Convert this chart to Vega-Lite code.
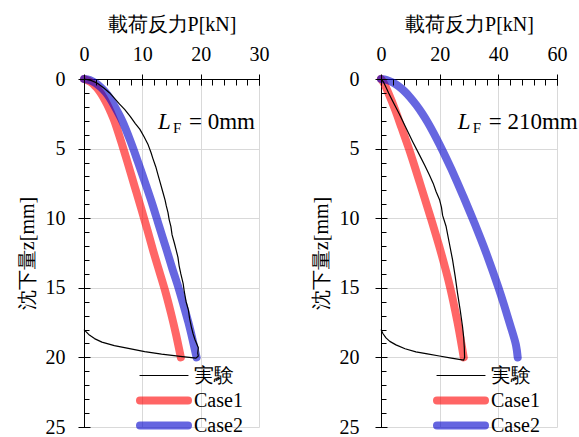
{
  "$schema": "https://vega.github.io/schema/vega-lite/v6.json",
  "padding": {"left": 17, "top": 14, "right": 2, "bottom": 0},
  "background": "white",
  "config": {
    "font": "Liberation Serif",
    "view": {"stroke": null},
    "axis": {
      "labelFont": "Liberation Serif",
      "titleFont": "Liberation Serif",
      "labelFontSize": 20,
      "titleFontSize": 20,
      "titleFontWeight": "normal",
      "labelColor": "black",
      "titleColor": "black",
      "domainColor": "black",
      "tickColor": "black",
      "gridColor": "#d9d9d9",
      "gridWidth": 1,
      "labelFlush": false,
      "labelOverlap": false
    },
    "legend": {
      "orient": "none",
      "legendX": 48,
      "legendY": 286.5,
      "symbolType": "M-0.5,0H11.5",
      "symbolSize": 64,
      "labelFont": "Liberation Serif",
      "labelFontSize": 20,
      "labelColor": "black",
      "labelOffset": 42,
      "rowPadding": 5,
      "padding": 0,
      "labelLimit": 200
    },
    "text": {"font": "Liberation Serif", "color": "black"}
  },
  "datasets": {
    "left": [
      {"series": "Case1", "P": 0, "z": 0, "order": 0},
      {"series": "Case1", "P": 0.7, "z": 0.12, "order": 1},
      {"series": "Case1", "P": 1.4, "z": 0.3, "order": 2},
      {"series": "Case1", "P": 2.0, "z": 0.55, "order": 3},
      {"series": "Case1", "P": 2.6, "z": 0.85, "order": 4},
      {"series": "Case1", "P": 3.3, "z": 1.3, "order": 5},
      {"series": "Case1", "P": 4.0, "z": 1.85, "order": 6},
      {"series": "Case1", "P": 4.6, "z": 2.4, "order": 7},
      {"series": "Case1", "P": 5.2, "z": 3.0, "order": 8},
      {"series": "Case1", "P": 6.3, "z": 4.4, "order": 9},
      {"series": "Case1", "P": 7.4, "z": 5.9, "order": 10},
      {"series": "Case1", "P": 8.6, "z": 7.6, "order": 11},
      {"series": "Case1", "P": 9.8, "z": 9.3, "order": 12},
      {"series": "Case1", "P": 10.9, "z": 10.9, "order": 13},
      {"series": "Case1", "P": 11.9, "z": 12.4, "order": 14},
      {"series": "Case1", "P": 12.9, "z": 13.8, "order": 15},
      {"series": "Case1", "P": 13.9, "z": 15.2, "order": 16},
      {"series": "Case1", "P": 14.9, "z": 16.8, "order": 17},
      {"series": "Case1", "P": 15.8, "z": 18.4, "order": 18},
      {"series": "Case1", "P": 16.6, "z": 20.0, "order": 19},
      {"series": "Case2", "P": 0, "z": 0, "order": 0},
      {"series": "Case2", "P": 1.0, "z": 0.08, "order": 1},
      {"series": "Case2", "P": 2.0, "z": 0.3, "order": 2},
      {"series": "Case2", "P": 2.9, "z": 0.6, "order": 3},
      {"series": "Case2", "P": 3.7, "z": 0.95, "order": 4},
      {"series": "Case2", "P": 4.4, "z": 1.35, "order": 5},
      {"series": "Case2", "P": 5.1, "z": 1.85, "order": 6},
      {"series": "Case2", "P": 6.6, "z": 3.05, "order": 7},
      {"series": "Case2", "P": 8.0, "z": 4.5, "order": 8},
      {"series": "Case2", "P": 9.2, "z": 5.9, "order": 9},
      {"series": "Case2", "P": 10.6, "z": 7.6, "order": 10},
      {"series": "Case2", "P": 11.8, "z": 9.1, "order": 11},
      {"series": "Case2", "P": 12.9, "z": 10.6, "order": 12},
      {"series": "Case2", "P": 14.1, "z": 12.2, "order": 13},
      {"series": "Case2", "P": 15.2, "z": 13.7, "order": 14},
      {"series": "Case2", "P": 16.2, "z": 15.0, "order": 15},
      {"series": "Case2", "P": 17.1, "z": 16.3, "order": 16},
      {"series": "Case2", "P": 17.9, "z": 17.5, "order": 17},
      {"series": "Case2", "P": 18.6, "z": 18.7, "order": 18},
      {"series": "Case2", "P": 19.3, "z": 20.0, "order": 19},
      {"series": "実験", "P": 0, "z": 0, "order": 0},
      {"series": "実験", "P": 1.2, "z": 0.1, "order": 1},
      {"series": "実験", "P": 2.3, "z": 0.3, "order": 2},
      {"series": "実験", "P": 3.4, "z": 0.65, "order": 3},
      {"series": "実験", "P": 4.4, "z": 1.0, "order": 4},
      {"series": "実験", "P": 5.2, "z": 1.37, "order": 5},
      {"series": "実験", "P": 6.1, "z": 1.8, "order": 6},
      {"series": "実験", "P": 7.0, "z": 2.2, "order": 7},
      {"series": "実験", "P": 7.95, "z": 2.7, "order": 8},
      {"series": "実験", "P": 8.8, "z": 3.2, "order": 9},
      {"series": "実験", "P": 9.56, "z": 3.6, "order": 10},
      {"series": "実験", "P": 10.3, "z": 4.15, "order": 11},
      {"series": "実験", "P": 11.0, "z": 4.73, "order": 12},
      {"series": "実験", "P": 11.5, "z": 5.3, "order": 13},
      {"series": "実験", "P": 11.8, "z": 5.7, "order": 14},
      {"series": "実験", "P": 12.3, "z": 6.3, "order": 15},
      {"series": "実験", "P": 12.7, "z": 6.9, "order": 16},
      {"series": "実験", "P": 13.1, "z": 7.5, "order": 17},
      {"series": "実験", "P": 13.5, "z": 8.1, "order": 18},
      {"series": "実験", "P": 13.9, "z": 8.7, "order": 19},
      {"series": "実験", "P": 14.1, "z": 9.1, "order": 20},
      {"series": "実験", "P": 14.4, "z": 9.6, "order": 21},
      {"series": "実験", "P": 14.6, "z": 10.1, "order": 22},
      {"series": "実験", "P": 14.9, "z": 10.6, "order": 23},
      {"series": "実験", "P": 15.1, "z": 11.2, "order": 24},
      {"series": "実験", "P": 15.5, "z": 11.8, "order": 25},
      {"series": "実験", "P": 15.8, "z": 12.3, "order": 26},
      {"series": "実験", "P": 16.1, "z": 12.8, "order": 27},
      {"series": "実験", "P": 16.3, "z": 13.4, "order": 28},
      {"series": "実験", "P": 16.6, "z": 14.0, "order": 29},
      {"series": "実験", "P": 17.0, "z": 14.7, "order": 30},
      {"series": "実験", "P": 17.2, "z": 15.3, "order": 31},
      {"series": "実験", "P": 17.5, "z": 16.0, "order": 32},
      {"series": "実験", "P": 17.9, "z": 16.6, "order": 33},
      {"series": "実験", "P": 18.1, "z": 17.2, "order": 34},
      {"series": "実験", "P": 18.4, "z": 17.8, "order": 35},
      {"series": "実験", "P": 18.7, "z": 18.3, "order": 36},
      {"series": "実験", "P": 19.0, "z": 18.7, "order": 37},
      {"series": "実験", "P": 19.3, "z": 19.0, "order": 38},
      {"series": "実験", "P": 19.6, "z": 19.3, "order": 39},
      {"series": "実験", "P": 19.5, "z": 19.7, "order": 40},
      {"series": "実験", "P": 19.6, "z": 19.9, "order": 41},
      {"series": "実験", "P": 19.2, "z": 20.05, "order": 42},
      {"series": "実験", "P": 16.5, "z": 19.92, "order": 43},
      {"series": "実験", "P": 13.3, "z": 19.76, "order": 44},
      {"series": "実験", "P": 10.4, "z": 19.58, "order": 45},
      {"series": "実験", "P": 7.6, "z": 19.35, "order": 46},
      {"series": "実験", "P": 5.2, "z": 19.15, "order": 47},
      {"series": "実験", "P": 3.07, "z": 18.9, "order": 48},
      {"series": "実験", "P": 1.8, "z": 18.65, "order": 49},
      {"series": "実験", "P": 0.8, "z": 18.35, "order": 50},
      {"series": "実験", "P": 0, "z": 18.0, "order": 51}
    ],
    "right": [
      {"series": "Case1", "P": 0, "z": 0, "order": 0},
      {"series": "Case1", "P": 1.0, "z": 0.3, "order": 1},
      {"series": "Case1", "P": 2.5, "z": 1.0, "order": 2},
      {"series": "Case1", "P": 4.8, "z": 2.2, "order": 3},
      {"series": "Case1", "P": 7.0, "z": 3.5, "order": 4},
      {"series": "Case1", "P": 9.5, "z": 5.0, "order": 5},
      {"series": "Case1", "P": 13.3, "z": 7.5, "order": 6},
      {"series": "Case1", "P": 17.0, "z": 10.0, "order": 7},
      {"series": "Case1", "P": 20.5, "z": 12.5, "order": 8},
      {"series": "Case1", "P": 23.6, "z": 15.0, "order": 9},
      {"series": "Case1", "P": 26.1, "z": 17.5, "order": 10},
      {"series": "Case1", "P": 28.2, "z": 20.0, "order": 11},
      {"series": "Case2", "P": 0, "z": 0, "order": 0},
      {"series": "Case2", "P": 2, "z": 0.07, "order": 1},
      {"series": "Case2", "P": 4, "z": 0.25, "order": 2},
      {"series": "Case2", "P": 6, "z": 0.52, "order": 3},
      {"series": "Case2", "P": 8, "z": 0.88, "order": 4},
      {"series": "Case2", "P": 10, "z": 1.33, "order": 5},
      {"series": "Case2", "P": 12, "z": 1.86, "order": 6},
      {"series": "Case2", "P": 14, "z": 2.46, "order": 7},
      {"series": "Case2", "P": 16, "z": 3.14, "order": 8},
      {"series": "Case2", "P": 18, "z": 3.9, "order": 9},
      {"series": "Case2", "P": 20, "z": 4.72, "order": 10},
      {"series": "Case2", "P": 22, "z": 5.58, "order": 11},
      {"series": "Case2", "P": 24, "z": 6.48, "order": 12},
      {"series": "Case2", "P": 26, "z": 7.42, "order": 13},
      {"series": "Case2", "P": 28, "z": 8.4, "order": 14},
      {"series": "Case2", "P": 30, "z": 9.4, "order": 15},
      {"series": "Case2", "P": 32, "z": 10.42, "order": 16},
      {"series": "Case2", "P": 34, "z": 11.48, "order": 17},
      {"series": "Case2", "P": 36, "z": 12.58, "order": 18},
      {"series": "Case2", "P": 38, "z": 13.74, "order": 19},
      {"series": "Case2", "P": 40, "z": 14.96, "order": 20},
      {"series": "Case2", "P": 42, "z": 16.26, "order": 21},
      {"series": "Case2", "P": 44, "z": 17.64, "order": 22},
      {"series": "Case2", "P": 46, "z": 19.1, "order": 23},
      {"series": "Case2", "P": 46.6, "z": 20.0, "order": 24},
      {"series": "実験", "P": 0, "z": 0, "order": 0},
      {"series": "実験", "P": 0.8, "z": 0.2, "order": 1},
      {"series": "実験", "P": 1.5, "z": 0.5, "order": 2},
      {"series": "実験", "P": 2.6, "z": 1.0, "order": 3},
      {"series": "実験", "P": 4.0, "z": 1.6, "order": 4},
      {"series": "実験", "P": 6.2, "z": 2.5, "order": 5},
      {"series": "実験", "P": 8.5, "z": 3.5, "order": 6},
      {"series": "実験", "P": 10.8, "z": 4.5, "order": 7},
      {"series": "実験", "P": 13.1, "z": 5.45, "order": 8},
      {"series": "実験", "P": 14.9, "z": 6.2, "order": 9},
      {"series": "実験", "P": 16.5, "z": 6.9, "order": 10},
      {"series": "実験", "P": 17.8, "z": 7.5, "order": 11},
      {"series": "実験", "P": 18.8, "z": 8.1, "order": 12},
      {"series": "実験", "P": 20.0, "z": 8.7, "order": 13},
      {"series": "実験", "P": 20.6, "z": 9.2, "order": 14},
      {"series": "実験", "P": 21.0, "z": 9.8, "order": 15},
      {"series": "実験", "P": 22.2, "z": 10.6, "order": 16},
      {"series": "実験", "P": 23.3, "z": 11.8, "order": 17},
      {"series": "実験", "P": 24.4, "z": 13.0, "order": 18},
      {"series": "実験", "P": 25.3, "z": 14.2, "order": 19},
      {"series": "実験", "P": 26.1, "z": 15.4, "order": 20},
      {"series": "実験", "P": 27.0, "z": 16.6, "order": 21},
      {"series": "実験", "P": 27.8, "z": 17.8, "order": 22},
      {"series": "実験", "P": 28.2, "z": 18.6, "order": 23},
      {"series": "実験", "P": 28.4, "z": 19.3, "order": 24},
      {"series": "実験", "P": 28.5, "z": 20.0, "order": 25},
      {"series": "実験", "P": 28.2, "z": 20.2, "order": 26},
      {"series": "実験", "P": 24.0, "z": 20.05, "order": 27},
      {"series": "実験", "P": 19.9, "z": 19.9, "order": 28},
      {"series": "実験", "P": 15.8, "z": 19.75, "order": 29},
      {"series": "実験", "P": 11.9, "z": 19.6, "order": 30},
      {"series": "実験", "P": 8.2, "z": 19.38, "order": 31},
      {"series": "実験", "P": 5.1, "z": 19.1, "order": 32},
      {"series": "実験", "P": 3.0, "z": 18.85, "order": 33},
      {"series": "実験", "P": 1.7, "z": 18.6, "order": 34},
      {"series": "実験", "P": 0.7, "z": 18.3, "order": 35},
      {"series": "実験", "P": 0, "z": 18.0, "order": 36}
    ]
  },
  "resolve": {"scale": {"x": "independent", "y": "independent", "color": "independent", "strokeWidth": "independent", "opacity": "independent"}},
  "spacing": 122,
  "bounds": "flush",
  "hconcat": [
    {
      "width": 175,
      "height": 348,
      "resolve": {"axis": {"x": "independent", "y": "independent"}},
      "layer": [
        {
          "data": {"name": "left"},
          "transform": [{"filter": "datum.series !== '実験'"}],
          "mark": {"type": "line", "strokeCap": "round", "strokeJoin": "round", "interpolate": "catmull-rom"},
          "encoding": {
            "x": {"field": "P", "type": "quantitative", "scale": {"domain": [0, 30], "nice": false, "zero": false},
              "axis": {"orient": "top", "values": [0, 10, 20, 30], "title": "載荷反力P[kN]", "grid": true, "ticks": false, "tickSize": 0, "domain": true, "labelPadding": 15, "titlePadding": 10, "labelFont": "Liberation Serif", "titleFont": "Liberation Serif", "zindex": 0,
                "encoding": {"labels": {"font": {"value": "Liberation Serif"}}, "title": {"font": {"value": "Liberation Serif"}}}}},
            "y": {"field": "z", "type": "quantitative", "scale": {"domain": [0, 25], "nice": false, "zero": false, "reverse": true},
              "axis": {"orient": "left", "values": [0, 5, 10, 15, 20, 25], "title": "沈下量z[mm]", "grid": true, "ticks": false, "tickSize": 0, "domain": true, "labelPadding": 19, "titlePadding": 8, "labelFont": "Liberation Serif", "titleFont": "Liberation Serif", "zindex": 0,
                "encoding": {"labels": {"font": {"value": "Liberation Serif"}}, "title": {"font": {"value": "Liberation Serif"}}}}},
            "color": {"field": "series", "type": "nominal", "scale": {"domain": ["実験", "Case1", "Case2"], "range": ["#000000", "#FF0000", "#0000CC"]}, "legend": {"title": null, "labelFont": "Liberation Serif", "encode": {"symbols": {"update": {"strokeJoin": {"value": "round"}, "strokeCap": {"value": "round"}}}, "labels": {"update": {"font": {"value": "Liberation Serif"}}}}}},
            "strokeWidth": {"field": "series", "type": "nominal", "scale": {"type": "ordinal", "domain": ["実験", "Case1", "Case2"], "range": [1.2, 8, 8]}, "legend": {"title": null}},
            "opacity": {"field": "series", "type": "nominal", "scale": {"type": "ordinal", "domain": ["実験", "Case1", "Case2"], "range": [1, 0.6, 0.6]}, "legend": {"title": null}},
            "order": {"field": "order", "type": "quantitative"}
          }
        },
        {
          "data": {"name": "left"},
          "transform": [{"filter": "datum.series === '実験'"}],
          "mark": {"type": "line", "strokeJoin": "round"},
          "encoding": {
            "x": {"field": "P", "type": "quantitative", "axis": null},
            "y": {"field": "z", "type": "quantitative", "axis": null},
            "color": {"field": "series", "type": "nominal", "scale": {"domain": ["実験", "Case1", "Case2"], "range": ["#000000", "#FF0000", "#0000CC"]}, "legend": {"title": null, "labelFont": "Liberation Serif", "encode": {"symbols": {"update": {"strokeJoin": {"value": "round"}, "strokeCap": {"value": "round"}}}, "labels": {"update": {"font": {"value": "Liberation Serif"}}}}}},
            "strokeWidth": {"field": "series", "type": "nominal", "scale": {"type": "ordinal", "domain": ["実験", "Case1", "Case2"], "range": [1.2, 8, 8]}, "legend": {"title": null}},
            "opacity": {"field": "series", "type": "nominal", "scale": {"type": "ordinal", "domain": ["実験", "Case1", "Case2"], "range": [1, 0.6, 0.6]}, "legend": {"title": null}},
            "order": {"field": "order", "type": "quantitative"}
          }
        },
        {
          "data": {"values": [{"t": "L"}]},
          "mark": {"type": "text", "font": "Liberation Serif", "fontStyle": "italic", "fontSize": 23, "align": "left", "baseline": "alphabetic"},
          "encoding": {
            "text": {"field": "t"},
            "x": {"datum": 12.67, "type": "quantitative", "axis": {"orient": "top", "values": [0, 10, 20, 30], "title": null, "labels": false, "grid": false, "domain": false, "ticks": true, "tickSize": 11, "offset": -6, "zindex": 1}},
            "y": {"datum": 3.58, "type": "quantitative", "axis": {"orient": "left", "values": [0, 5, 10, 15, 20, 25], "title": null, "labels": false, "grid": false, "domain": false, "ticks": true, "tickSize": 12, "offset": -6, "zindex": 1}}
          }
        },
        {
          "data": {"values": [{"t": "F"}]},
          "mark": {"type": "text", "font": "Liberation Serif", "fontSize": 15, "align": "left", "baseline": "alphabetic", "dx": 15, "dy": 4},
          "encoding": {
            "text": {"field": "t"},
            "x": {"datum": 12.67, "type": "quantitative", "axis": {"orient": "top", "values": [0, 2, 4, 6, 8, 10, 12, 14, 16, 18, 20, 22, 24, 26, 28, 30], "title": null, "labels": false, "grid": false, "domain": false, "ticks": true, "tickSize": 6, "offset": -6, "zindex": 1}},
            "y": {"datum": 3.58, "type": "quantitative", "axis": {"orient": "left", "values": [0, 1, 2, 3, 4, 5, 6, 7, 8, 9, 10, 11, 12, 13, 14, 15, 16, 17, 18, 19, 20, 21, 22, 23, 24, 25], "title": null, "labels": false, "grid": false, "domain": false, "ticks": true, "tickSize": 5, "offset": -5, "zindex": 1}}
          }
        },
        {
          "data": {"values": [{"t": "= 0mm"}]},
          "mark": {"type": "text", "font": "Liberation Serif", "fontSize": 23, "align": "left", "baseline": "alphabetic", "dx": 31},
          "encoding": {
            "text": {"field": "t"},
            "x": {"datum": 12.67, "type": "quantitative", "axis": null},
            "y": {"datum": 3.58, "type": "quantitative", "axis": null}
          }
        }
      ]
    },
    {
      "width": 176,
      "height": 348,
      "resolve": {"axis": {"x": "independent", "y": "independent"}},
      "layer": [
        {
          "data": {"name": "right"},
          "transform": [{"filter": "datum.series !== '実験'"}],
          "mark": {"type": "line", "strokeCap": "round", "strokeJoin": "round", "interpolate": "catmull-rom"},
          "encoding": {
            "x": {"field": "P", "type": "quantitative", "scale": {"domain": [0, 60], "nice": false, "zero": false},
              "axis": {"orient": "top", "values": [0, 20, 40, 60], "title": "載荷反力P[kN]", "grid": true, "ticks": false, "tickSize": 0, "domain": true, "labelPadding": 15, "titlePadding": 10, "labelFont": "Liberation Serif", "titleFont": "Liberation Serif", "zindex": 0,
                "encoding": {"labels": {"font": {"value": "Liberation Serif"}}, "title": {"font": {"value": "Liberation Serif"}}}}},
            "y": {"field": "z", "type": "quantitative", "scale": {"domain": [0, 25], "nice": false, "zero": false, "reverse": true},
              "axis": {"orient": "left", "values": [0, 5, 10, 15, 20, 25], "title": "沈下量z[mm]", "grid": true, "ticks": false, "tickSize": 0, "domain": true, "labelPadding": 22, "titlePadding": 8, "labelFont": "Liberation Serif", "titleFont": "Liberation Serif", "zindex": 0,
                "encoding": {"labels": {"font": {"value": "Liberation Serif"}}, "title": {"font": {"value": "Liberation Serif"}}}}},
            "color": {"field": "series", "type": "nominal", "scale": {"domain": ["実験", "Case1", "Case2"], "range": ["#000000", "#FF0000", "#0000CC"]}, "legend": {"title": null, "labelFont": "Liberation Serif", "encode": {"symbols": {"update": {"strokeJoin": {"value": "round"}, "strokeCap": {"value": "round"}}}, "labels": {"update": {"font": {"value": "Liberation Serif"}}}}}},
            "strokeWidth": {"field": "series", "type": "nominal", "scale": {"type": "ordinal", "domain": ["実験", "Case1", "Case2"], "range": [1.2, 8, 8]}, "legend": {"title": null}},
            "opacity": {"field": "series", "type": "nominal", "scale": {"type": "ordinal", "domain": ["実験", "Case1", "Case2"], "range": [1, 0.6, 0.6]}, "legend": {"title": null}},
            "order": {"field": "order", "type": "quantitative"}
          }
        },
        {
          "data": {"name": "right"},
          "transform": [{"filter": "datum.series === '実験'"}],
          "mark": {"type": "line", "strokeJoin": "round"},
          "encoding": {
            "x": {"field": "P", "type": "quantitative", "axis": null},
            "y": {"field": "z", "type": "quantitative", "axis": null},
            "color": {"field": "series", "type": "nominal", "scale": {"domain": ["実験", "Case1", "Case2"], "range": ["#000000", "#FF0000", "#0000CC"]}, "legend": {"title": null, "labelFont": "Liberation Serif", "encode": {"symbols": {"update": {"strokeJoin": {"value": "round"}, "strokeCap": {"value": "round"}}}, "labels": {"update": {"font": {"value": "Liberation Serif"}}}}}},
            "strokeWidth": {"field": "series", "type": "nominal", "scale": {"type": "ordinal", "domain": ["実験", "Case1", "Case2"], "range": [1.2, 8, 8]}, "legend": {"title": null}},
            "opacity": {"field": "series", "type": "nominal", "scale": {"type": "ordinal", "domain": ["実験", "Case1", "Case2"], "range": [1, 0.6, 0.6]}, "legend": {"title": null}},
            "order": {"field": "order", "type": "quantitative"}
          }
        },
        {
          "data": {"values": [{"t": "L"}]},
          "mark": {"type": "text", "font": "Liberation Serif", "fontStyle": "italic", "fontSize": 23, "align": "left", "baseline": "alphabetic"},
          "encoding": {
            "text": {"field": "t"},
            "x": {"datum": 26.15, "type": "quantitative", "axis": {"orient": "top", "values": [0, 20, 40, 60], "title": null, "labels": false, "grid": false, "domain": false, "ticks": true, "tickSize": 11, "offset": -6, "zindex": 1}},
            "y": {"datum": 3.58, "type": "quantitative", "axis": {"orient": "left", "values": [0, 5, 10, 15, 20, 25], "title": null, "labels": false, "grid": false, "domain": false, "ticks": true, "tickSize": 12, "offset": -6, "zindex": 1}}
          }
        },
        {
          "data": {"values": [{"t": "F"}]},
          "mark": {"type": "text", "font": "Liberation Serif", "fontSize": 15, "align": "left", "baseline": "alphabetic", "dx": 15, "dy": 4},
          "encoding": {
            "text": {"field": "t"},
            "x": {"datum": 26.15, "type": "quantitative", "axis": {"orient": "top", "values": [0, 4, 8, 12, 16, 20, 24, 28, 32, 36, 40, 44, 48, 52, 56, 60], "title": null, "labels": false, "grid": false, "domain": false, "ticks": true, "tickSize": 6, "offset": -6, "zindex": 1}},
            "y": {"datum": 3.58, "type": "quantitative", "axis": {"orient": "left", "values": [0, 1, 2, 3, 4, 5, 6, 7, 8, 9, 10, 11, 12, 13, 14, 15, 16, 17, 18, 19, 20, 21, 22, 23, 24, 25], "title": null, "labels": false, "grid": false, "domain": false, "ticks": true, "tickSize": 5, "offset": -5, "zindex": 1}}
          }
        },
        {
          "data": {"values": [{"t": "= 210mm"}]},
          "mark": {"type": "text", "font": "Liberation Serif", "fontSize": 23, "align": "left", "baseline": "alphabetic", "dx": 31},
          "encoding": {
            "text": {"field": "t"},
            "x": {"datum": 26.15, "type": "quantitative", "axis": null},
            "y": {"datum": 3.58, "type": "quantitative", "axis": null}
          }
        }
      ]
    }
  ]
}
